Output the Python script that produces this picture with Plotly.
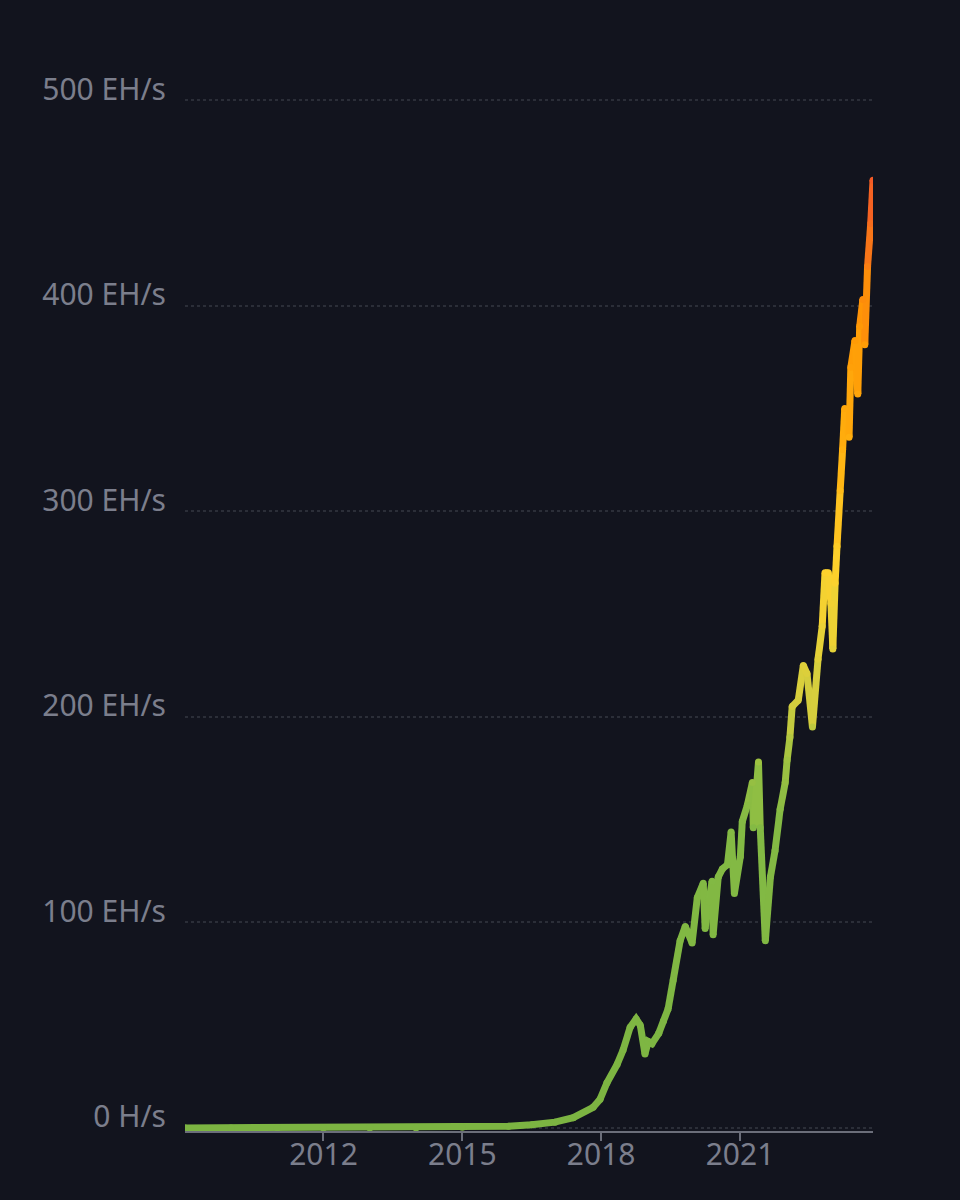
import plotly.graph_objects as go

# ---- data (Bitcoin network hashrate, EH/s) ----
dates = [
    "2009-01-03", "2010-01-01", "2011-01-01", "2012-01-01", "2013-01-01",
    "2014-01-01", "2015-01-01", "2016-01-01", "2016-07-01", "2017-01-01",
    "2017-05-26", "2017-10-30", "2017-12-24", "2018-02-16", "2018-05-08",
    "2018-06-24", "2018-08-18", "2018-10-04", "2018-11-06", "2018-12-13",
    "2019-01-08", "2019-02-06", "2019-04-01", "2019-05-08", "2019-06-14",
    "2019-07-24", "2019-09-16", "2019-10-27", "2019-12-20", "2020-01-30",
    "2020-03-17", "2020-04-01", "2020-04-30", "2020-05-26", "2020-06-03",
    "2020-07-13", "2020-08-15", "2020-09-24", "2020-10-23", "2020-11-18",
    "2021-01-04", "2021-01-19", "2021-02-28", "2021-04-09", "2021-04-16",
    "2021-05-27", "2021-06-10", "2021-07-20", "2021-08-29", "2021-10-05",
    "2021-11-14", "2021-12-24", "2022-01-08", "2022-01-30", "2022-02-17",
    "2022-04-06", "2022-05-16", "2022-06-14", "2022-07-27", "2022-09-09",
    "2022-10-12", "2022-11-03", "2022-11-29", "2022-12-20", "2023-01-04",
    "2023-01-22", "2023-02-06", "2023-03-03", "2023-03-22", "2023-04-08",
    "2023-05-12", "2023-05-26", "2023-06-28", "2023-07-20", "2023-08-04",
    "2023-08-29", "2023-09-13", "2023-10-05", "2023-10-30", "2023-11-17",
]
hashrate_ehs = [
    0, 0, 0, 0.00001, 0.00002,
    0.01, 0.3, 0.8, 1.5, 2.8,
    5, 10, 14, 22, 31,
    38, 49, 53, 50, 36,
    42, 41, 46, 52, 58,
    72, 91, 98, 90, 112,
    119, 97, 110, 120, 94,
    122, 126, 128, 144, 114,
    132, 149, 157, 168, 146,
    178, 146, 91, 122, 135,
    155, 168, 179, 190, 205,
    208, 225, 221, 195, 228,
    244, 270, 270, 255, 233,
    265, 283, 310, 330, 350,
    336, 370, 383, 357, 390,
    403, 381, 419, 440, 461,
]

x_tick_vals = ["2012-01-01", "2015-01-01", "2018-01-01", "2021-01-01"]
x_tick_text = ["2012", "2015", "2018", "2021"]
y_tick_vals = [0, 100, 200, 300, 400, 500]
y_tick_text = ["0 H/s", "100 EH/s", "200 EH/s", "300 EH/s", "400 EH/s", "500 EH/s"]

# colour gradient by value (vertical gradient)
stop_values = [0, 150, 180, 205, 240, 270, 330, 390, 460]
stop_colors = [(124, 180, 66), (132, 186, 68), (160, 195, 65), (210, 205, 62),
               (232, 210, 55), (253, 210, 45), (255, 176, 15), (255, 152, 5),
               (243, 90, 38)]


def color_at(v):
    if v <= stop_values[0]:
        c = stop_colors[0]
    elif v >= stop_values[-1]:
        c = stop_colors[-1]
    else:
        for k in range(len(stop_values) - 1):
            a, b = stop_values[k], stop_values[k + 1]
            if a <= v <= b:
                t = (v - a) / (b - a)
                c = tuple(stop_colors[k][j] + (stop_colors[k + 1][j] - stop_colors[k][j]) * t for j in range(3))
                break
    return "#%02x%02x%02x" % tuple(int(round(x)) for x in c)


LINE_W = 7
fig = go.Figure()

# build runs of consecutive segments sharing the same colour
seg_colors = [color_at((hashrate_ehs[i] + hashrate_ehs[i + 1]) / 2) for i in range(len(dates) - 1)]
start = 0
for i in range(1, len(seg_colors) + 1):
    if i == len(seg_colors) or seg_colors[i] != seg_colors[start]:
        fig.add_trace(go.Scatter(
            x=dates[start:i + 1], y=hashrate_ehs[start:i + 1], mode="lines",
            line=dict(color=seg_colors[start], width=LINE_W),
            hoverinfo="skip", showlegend=False))
        start = i

# round joints
fig.add_trace(go.Scatter(
    x=dates, y=hashrate_ehs, mode="markers",
    marker=dict(size=LINE_W, color=[color_at(v) for v in hashrate_ehs], line=dict(width=0)),
    showlegend=False, hovertemplate="%{x}: %{y} EH/s<extra></extra>"))

label_color = "#7b7e8c"
axis_color = "#6b6e7a"
bg = "#12141e"

fig.update_layout(
    width=960, height=1200,
    paper_bgcolor=bg, plot_bgcolor=bg,
    margin=dict(l=185, r=87, t=98, b=69),
    font=dict(family="Noto Sans", color=label_color, size=30),
    showlegend=False,
    xaxis=dict(
        type="date", range=[dates[0], dates[-1]],
        tickvals=x_tick_vals, ticktext=x_tick_text,
        ticks="outside", ticklen=8, tickwidth=2, tickcolor=axis_color,
        ticklabelstandoff=-12,
        showline=True, linecolor=axis_color, linewidth=2,
        showgrid=False, zeroline=False, layer="below traces",
        tickfont=dict(color=label_color, size=30, family="Noto Sans"),
    ),
    yaxis=dict(
        range=[-1.5, 501],
        tickvals=y_tick_vals, ticktext=y_tick_text,
        ticklabelposition="outside", ticks="", ticklabelstandoff=18,
        ticklabelshift=-11,
        showgrid=True, gridcolor="#2b2e38", griddash="dot", gridwidth=1.5,
        zeroline=False, showline=False, layer="below traces",
        tickfont=dict(color=label_color, size=30, family="Noto Sans"),
    ),
)

fig.write_html(
    "out.html",
    config={"displayModeBar": False},
    post_script="document.body.style.margin='0';document.body.style.background='#12141e';",
)
